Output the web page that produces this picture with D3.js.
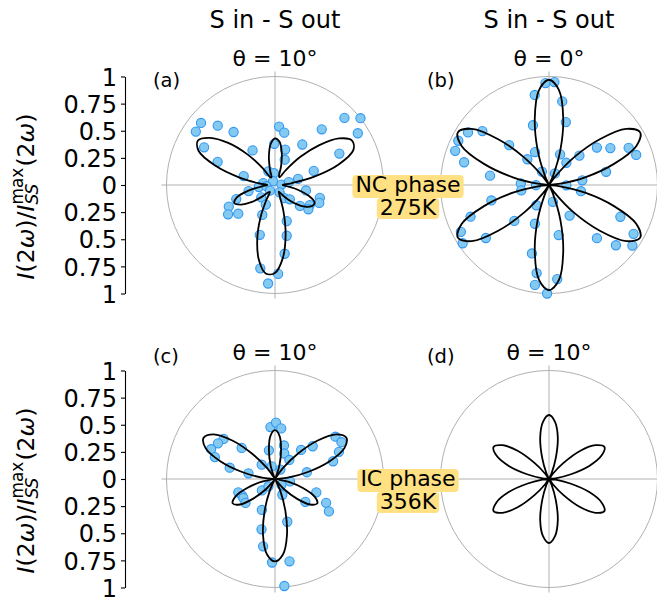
<!DOCTYPE html>
<html>
<head>
<meta charset="utf-8">
<script src="https://cdn.jsdelivr.net/npm/d3@7"></script>
<style>
  body { margin: 0; background: #fff; }
  text { font-family: "DejaVu Sans", sans-serif; fill: #000; }
</style>
</head>
<body>
<svg id="chart" width="657" height="599"></svg>
<script>

// angle grid of the fitted curves, degrees counter-clockwise from +x
var curvePhi = [0,6,12,18,24,30,36,42,48,54,60,66,72,78,84,90,96,102,108,114,
                120,126,132,138,144,150,156,162,168,174,180,186,192,198,204,210,216,222,228,234,
                240,246,252,258,264,270,276,282,288,294,300,306,312,318,324,330,336,342,348,354];

// fitted curves (normalised intensity)
var fitA = [0.07,0.15,0.37,0.62,0.79,0.82,0.73,0.55,0.35,0.17,
            0.08,0.09,0.18,0.30,0.40,0.43,0.38,0.27,0.15,0.08,
            0.08,0.19,0.38,0.58,0.74,0.82,0.77,0.58,0.34,0.15,
            0.07,0.12,0.25,0.37,0.41,0.36,0.27,0.16,0.09,0.08,
            0.16,0.33,0.53,0.71,0.82,0.81,0.68,0.47,0.25,0.10,
            0.07,0.11,0.18,0.26,0.34,0.39,0.40,0.33,0.22,0.11];
var fitB = [0,0.09,0.34,0.63,0.88,0.97,0.88,0.63,0.34,0.09,
            0,0.09,0.34,0.63,0.88,0.97,0.88,0.63,0.34,0.09,
            0,0.09,0.34,0.63,0.88,0.97,0.88,0.63,0.34,0.09,
            0,0.09,0.34,0.63,0.88,0.97,0.88,0.63,0.34,0.09,
            0,0.09,0.34,0.63,0.88,0.97,0.88,0.63,0.34,0.09,
            0,0.09,0.34,0.63,0.88,0.97,0.88,0.63,0.34,0.09];
var fitC = [0.01,0.12,0.31,0.53,0.70,0.76,0.70,0.53,0.31,0.12,0.01,0.02,0.13,0.27,0.40,0.45,0.40,0.27,0.13,0.02,
            0.01,0.12,0.31,0.53,0.70,0.76,0.70,0.53,0.31,0.12,0.01,0.02,0.13,0.27,0.40,0.45,0.40,0.27,0.13,0.02,
            0.01,0.12,0.31,0.53,0.70,0.76,0.70,0.53,0.31,0.12,0.01,0.02,0.13,0.27,0.40,0.45,0.40,0.27,0.13,0.02];
var fitD = [0,0.06,0.20,0.39,0.53,0.59,0.53,0.39,0.20,0.06,
            0,0.06,0.20,0.39,0.53,0.59,0.53,0.39,0.20,0.06,
            0,0.06,0.20,0.39,0.53,0.59,0.53,0.39,0.20,0.06,
            0,0.06,0.20,0.39,0.53,0.59,0.53,0.39,0.20,0.06,
            0,0.06,0.20,0.39,0.53,0.59,0.53,0.39,0.20,0.06,
            0,0.06,0.20,0.39,0.53,0.59,0.53,0.39,0.20,0.06];

// measured points: [phi (deg), normalised intensity]
var ptsA = [[140,0.89],[134,0.76],[146,0.88],[128,0.62],[152,0.74],[158,0.57],[123,0.38],[164,0.30],
            [86,0.54],[80,0.49],[91,0.38],[74,0.34],[69,0.25],
            [44,0.89],[38,1.0],[32,0.90],[50,0.67],[56,0.45],[26,0.66],[20,0.38],[15,0.22],
            [116,0.14],[95,0.11],[117,0.04],[171,0.11],[187,0.15],[188,0.08],[3,0.06],[12,0.13],
            [228,0.07],[302,0.08],[350,0.29],[193,0.25],[222,0.17],[306,0.15],[316,0.19],
            [200,0.38],[205,0.47],[212,0.51],[218,0.43],[245,0.20],
            [344,0.43],[338,0.44],[330,0.37],[320,0.30],[324,0.38],
            [247,0.30],[288,0.35],[253,0.48],[283,0.48],[278,0.64],[260,0.78],[272,0.82],[266,0.91]];
var ptsB = [[92,0.94],[87,0.95],[99,0.84],[81,0.78],[105,0.57],[75,0.60],[113,0.33],[70,0.30],[118,0.14],[63,0.12],
            [25,0.81],[19,0.85],[31,0.66],[38,0.56],[44,0.39],[13,0.54],[8,0.31],[52,0.26],[359,0.16],
            [336,0.72],[330,0.90],[324,0.95],[318,0.83],[312,0.66],[349,0.30],[304,0.34],
            [130,0.31],[135,0.52],[141,0.79],[147,0.89],[154,0.93],[160,0.92],[165,0.81],[171,0.55],[177,0.26],[191,0.26],[181,0.12],
            [195,0.55],[202,0.78],[208,0.92],[214,0.96],[220,0.76],[226,0.46],[238,0.22],
            [250,0.38],[256,0.65],[262,0.82],[262,0.93],[269,1.0],[275,0.87],[281,0.47],[283,0.16]];
var ptsC = [[95,0.48],[89,0.52],[83,0.47],[75,0.32],[70,0.25],[102,0.27],
            [142,0.60],[148,0.62],[155,0.65],[160,0.59],[137,0.42],[166,0.43],[168,0.25],[133,0.18],
            [35,0.68],[29,0.70],[23,0.64],[17,0.56],[41,0.46],[48,0.36],[12,0.30],[53,0.22],
            [105,0.12],[60,0.10],[351,0.14],[221,0.16],[318,0.08],[228,0.09],
            [200,0.36],[207,0.34],[211,0.34],[219,0.35],
            [342,0.40],[335,0.52],[329,0.58],[323,0.35],
            [247,0.31],[286,0.41],[255,0.48],[260,0.63],[268,0.77],[280,0.77],[275,0.99],[295,0.16]];

var colTitles = ["S in - S out", "S in - S out"];
var thetaTitles = ["θ = 10°", "θ = 0°", "θ = 10°", "θ = 10°"];
var panelTags = ["(a)", "(b)", "(c)", "(d)"];
var phaseLines = [["NC phase", "275K"], ["IC phase", "356K"]];
var yTickVals = [1, 0.75, 0.5, 0.25, 0, -0.25, -0.5, -0.75, -1];
var yTickText = ["1", "0.75", "0.5", "0.25", "0", "0.25", "0.5", "0.75", "1"];

var svg = d3.select("#chart");
svg.append("rect").attr("width", 657).attr("height", 599).attr("fill", "#fff");

var R = 108.5;
var colX = [275, 549], rowY = [185, 479];
var r = d3.scaleLinear().domain([0, 1]).range([0, R]);

// polar angle (math convention) -> d3 radial angle
function ang(deg) { return (90 - deg) * Math.PI / 180; }

var panels = [
  {col: 0, row: 0, fit: fitA, pts: ptsA},
  {col: 1, row: 0, fit: fitB, pts: ptsB},
  {col: 0, row: 1, fit: fitC, pts: ptsC},
  {col: 1, row: 1, fit: fitD, pts: null}
];

var radial = d3.lineRadial()
  .angle(function(d) { return ang(d[0]); })
  .radius(function(d) { return r(d[1]); })
  .curve(d3.curveCatmullRomClosed);

panels.forEach(function(p, i) {
  var cx = colX[p.col], cy = rowY[p.row];
  var g = svg.append("g").attr("transform", "translate(" + cx + "," + cy + ")");

  g.append("circle").attr("r", R).attr("fill", "none").attr("stroke", "#b0b0b0").attr("stroke-width", 1);
  g.append("line").attr("x1", -R - 5).attr("x2", R + 5).attr("stroke", "#b0b0b0").attr("stroke-width", 1);
  g.append("line").attr("y1", -R - 5).attr("y2", R + 5).attr("stroke", "#b0b0b0").attr("stroke-width", 1);

  if (p.pts) {
    g.selectAll("circle.pt").data(p.pts).enter().append("circle")
      .attr("class", "pt")
      .attr("cx", function(d) { return d3.pointRadial(ang(d[0]), r(d[1]))[0]; })
      .attr("cy", function(d) { return d3.pointRadial(ang(d[0]), r(d[1]))[1]; })
      .attr("r", 4.6)
      .attr("fill", "#84c9ef")
      .attr("stroke", "#2f97f5")
      .attr("stroke-width", 1.1);
  }

  var curve = curvePhi.map(function(a, k) { return [a, p.fit[k]]; });
  g.append("path").datum(curve)
    .attr("d", radial)
    .attr("fill", "none")
    .attr("stroke", "#000")
    .attr("stroke-width", 1.8);

  svg.append("text").attr("x", cx).attr("y", cy - R - 11)
    .attr("text-anchor", "middle").attr("font-size", 22).text(thetaTitles[i]);
  svg.append("text").attr("x", cx - 122).attr("y", p.row == 0 ? cy - 98 : cy - 116)
    .attr("font-size", 19.5).text(panelTags[i]);
});

// column titles
colTitles.forEach(function(t, i) {
  svg.append("text").attr("x", colX[i]).attr("y", 28)
    .attr("text-anchor", "middle").attr("font-size", 24).text(t);
});

// y axes
rowY.forEach(function(cy) {
  var y = d3.scaleLinear().domain([-1, 1]).range([cy + R, cy - R]);
  var ax = svg.append("g").attr("transform", "translate(125,0)")
    .call(d3.axisLeft(y).tickValues(yTickVals)
      .tickFormat(function(d, k) { return yTickText[k]; })
      .tickSize(4).tickSizeOuter(0).tickPadding(4));
  ax.attr("font-family", "DejaVu Sans").attr("font-size", 24);
  ax.selectAll("text").attr("dy", "0.36em");
  ax.select(".domain").attr("stroke-width", 1.1);
  ax.selectAll(".tick line").attr("stroke-width", 1.1);

  // axis label I(2w)/I_SS^max(2w), rotated
  var lg = svg.append("g").attr("transform", "translate(34," + (cy + 1.5) + ") rotate(-90)");
  var t = lg.append("text").attr("font-size", 23.5);
  t.append("tspan").attr("font-style", "italic").text("I");
  t.append("tspan").text("(2");
  t.append("tspan").attr("font-style", "italic").text("ω");
  t.append("tspan").text(")/");
  t.append("tspan").attr("font-style", "italic").text("I");
  var sub = t.append("tspan").attr("font-size", 17).attr("font-style", "italic").attr("dy", 4).text("SS");
  var subW = sub.node().getComputedTextLength();
  t.append("tspan").attr("font-size", 17).attr("dx", -subW).attr("dy", -15).text("max");
  t.append("tspan").attr("dy", 11).attr("dx", 1).text("(2");
  t.append("tspan").attr("font-style", "italic").text("ω");
  t.append("tspan").text(")");
  var w = t.node().getComputedTextLength();
  t.attr("x", -w / 2);
});

// phase labels with yellow background per line
phaseLines.forEach(function(lines, i) {
  var cy = rowY[i];
  var lg = svg.append("g");
  lines.forEach(function(s, k) {
    var base = cy + 7 + k * 23;
    var tx = lg.append("text").attr("x", 408).attr("y", base)
      .attr("text-anchor", "middle").attr("font-size", 22).text(s);
    var w = tx.node().getComputedTextLength();
    lg.insert("rect", "text")
      .attr("x", 408 - w / 2 - 3).attr("y", base - 17)
      .attr("width", w + 6).attr("height", k == 0 ? 23 : 21)
      .attr("rx", 4).attr("fill", "#ffe183");
  });
});

</script>
</body>
</html>
